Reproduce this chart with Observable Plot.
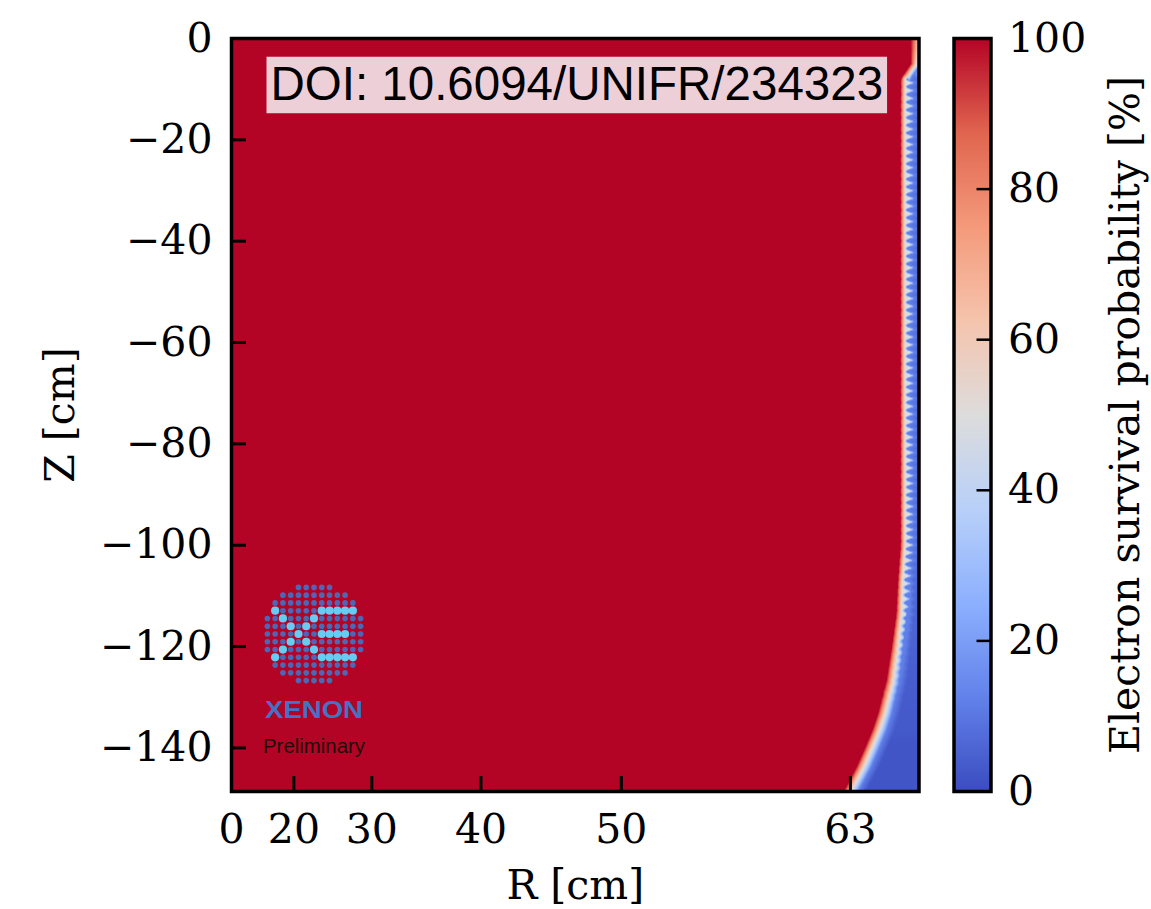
<!DOCTYPE html>
<html>
<head>
<meta charset="utf-8">
<script src="https://cdn.jsdelivr.net/npm/d3@7"></script>
<script src="https://cdn.jsdelivr.net/npm/@observablehq/plot@0.6"></script>
<style>
  html, body { margin: 0; padding: 0; background: #fff; }
  #wrap { position: relative; width: 1151px; height: 909px; overflow: hidden; }
  #wrap > svg { position: absolute; left: 0; top: 0; }
</style>
</head>
<body>
<div id="wrap"></div>
<script>
// ---------- data ----------
const xTickValues = [0, 20, 30, 40, 50, 63];            // R [cm] (axis is linear in R^2)
const yTickValues = [0, -20, -40, -60, -80, -100, -120, -140];
const colorbarTicks = [0, 20, 40, 60, 80, 100];
const rMax = 66.4;     // right edge of the map [cm]
const zMin = -148.6;   // bottom edge of the map [cm]

// survival-probability boundary knots (Z in cm)
const knotZ     = [0,    -5,   -8,    -14,   -100,  -107,  -113.5, -120,  -126.7, -133.2, -136.5, -139.9, -143.8, -147.8, -148.6];
const knotR100  = [66.0, 66.0, 65.5,  65.49, 65.49, 65.36, 65.28,  65.06, 64.80,  64.38,  64.10,  63.74,  63.30,  62.76,  62.65]; // red (100%) ends
const knotR50   = [66.5, 66.3, 65.8,  65.78, 65.78, 65.66, 65.60,  65.40, 65.16,  64.76,  64.48,  64.12,  63.70,  63.16,  63.05]; // white (50%)
const knotR10   = [66.7, 66.5, 65.98, 65.97, 65.97, 65.86, 65.82,  65.65, 65.45,  65.08,  64.82,  64.47,  64.05,  63.51,  63.40]; // light blue (~12%)
const knotEdgeP = [60,   45,   8,     8,     8,     7,     6,      5,     4,      3,      3,      2,      2,      2,      2];     // value next to the wall

// field-shaping electrode ripple along the wall
const electrodePitch = 1.52;          // cm
const rippleTop = -8, rippleFull = -105, rippleEnd = -132;
// offsets [r100, r50, r10] (cm) at the centre of a blue bulge and at the tip of an orange wedge
const bulgeOffset = [0.02, -0.07, -0.16];
const wedgeOffset = [-0.32, 0.20, 0.26];

// matplotlib "coolwarm" colour stops
const coolwarmStops = ["#3b4cc0", "#6282ea", "#8db0fe", "#b8d0f9", "#dddcdc", "#f5c4ad", "#f49a7b", "#e0654f", "#b40426"];

const doiText = "DOI: 10.6094/UNIFR/234323";

// logo: cyan "Xe" dots (col,row) on a 13x13 dotted disc
const logoCyan = [[1,3],[7,3],[8,3],[9,3],[10,3],[11,3],[2,4],[6,4],[3,5],[5,5],[4,6],[7,6],[8,6],[9,6],[10,6],[3,7],[5,7],[2,8],[6,8],[1,9],[7,9],[8,9],[9,9],[10,9],[11,9]];

// ---------- build sample points for the raster ----------
const zAt = arr => d3.scaleLinear().domain(knotZ).range(arr).clamp(true);
const f100 = zAt(knotR100), f50 = zAt(knotR50), f10 = zAt(knotR10), fEdge = zAt(knotEdgeP);
const rows = d3.range(0, rippleTop, -0.5).concat(d3.range(rippleTop, zMin, -electrodePitch / 8), [zMin]);
const points = [];
rows.forEach(z => {
  let r100 = f100(z), r50 = f50(z), r10 = f10(z);
  const pe = fEdge(z);
  const a = (z > rippleTop || z < rippleEnd) ? 0 : z >= rippleFull ? 1 : (z - rippleEnd) / (rippleFull - rippleEnd);
  if (a > 0) {
    const u = ((rippleTop - z) / electrodePitch) % 1;
    const k = (1 - Math.cos(2 * Math.PI * u)) / 2;     // 0 on a bulge, 1 on a wedge tip
    const kTip = Math.pow(k, 4), kRound = Math.pow(k, 1.5);
    r100 += a * (bulgeOffset[0] + (wedgeOffset[0] - bulgeOffset[0]) * kTip);
    r50  += a * (bulgeOffset[1] + (wedgeOffset[1] - bulgeOffset[1]) * kRound);
    r10  += a * (bulgeOffset[2] + (wedgeOffset[2] - bulgeOffset[2]) * kRound);
  }
  points.push({r: 0, z, p: 100}, {r: r100 - 3, z, p: 100}, {r: r100, z, p: 100});
  if (r50 < rMax) points.push({r: r50, z, p: 50});
  if (r10 < rMax) points.push({r: r10, z, p: 12});
  if (r10 + 0.4 < rMax) points.push({r: r10 + 0.4, z, p: pe});
  points.push({r: rMax, z, p: pe});
});

const coolwarm = d3.piecewise(d3.interpolateRgb, coolwarmStops);
const colorScale = {type: "linear", domain: [0, 100], interpolate: coolwarm};
const minusFmt = d => d < 0 ? "\u2212" + Math.abs(d) : String(d);

const W = 1151, H = 909;
const mL = 231, mR = W - 918.5, mT = 38, mB = H - 791;
const plotW = W - mL - mR, plotH = H - mT - mB;
const serif = "DejaVu Serif";

const main = Plot.plot({
  width: W, height: H,
  marginLeft: mL, marginRight: mR, marginTop: mT, marginBottom: mB,
  style: {background: "white", fontFamily: serif, fontSize: "41px", overflow: "visible"},
  x: {type: "pow", exponent: 2, domain: [0, rMax]},
  y: {domain: [zMin, 0]},
  color: colorScale,
  marks: [
    Plot.raster(points, {x: "r", y: "z", fill: "p", interpolate: "barycentric", x1: 0, x2: rMax, y1: zMin, y2: 0}),
    Plot.tickX(xTickValues.filter(d => d > 0), {x: d => d, stroke: "black", strokeWidth: 3, insetTop: plotH - 15}),
    Plot.tickY(yTickValues.filter(d => d < 0), {y: d => d, stroke: "black", strokeWidth: 3, insetRight: plotW - 15}),
    Plot.frame({stroke: "black", strokeWidth: 3.5}),
    Plot.axisX(xTickValues, {anchor: "bottom", tickSize: 0, tickPadding: 22, tickFormat: d => String(d), label: null, fontSize: 41}),
    Plot.axisY(yTickValues, {anchor: "left", tickSize: 0, tickPadding: 19, tickFormat: minusFmt, label: null, fontSize: 41}),
    Plot.text(["R [cm]"], {text: d => d, frameAnchor: "bottom", textAnchor: "middle", lineAnchor: "middle", dy: 94, fontSize: 41}),
    Plot.text(["Z [cm]"], {text: d => d, frameAnchor: "left", textAnchor: "middle", lineAnchor: "middle", dx: -171, rotate: -90, fontSize: 41}),
    Plot.text([doiText], {text: d => d, frameAnchor: "top-left", textAnchor: "start", lineAnchor: "top", dx: 39, dy: 28,
      fontFamily: "Liberation Sans, Arial, sans-serif", fontSize: 47.5, fill: "black"})
  ]
});

const cbL = 953.5, cbR = 990.5;
const colorbar = Plot.plot({
  width: W, height: H,
  marginLeft: cbL, marginRight: W - cbR, marginTop: mT, marginBottom: mB,
  style: {background: "transparent", fontFamily: serif, fontSize: "41px", overflow: "visible"},
  x: {domain: [0, 1], axis: null},
  y: {domain: [0, 100]},
  color: colorScale,
  marks: [
    Plot.raster({fill: (x, y) => y, x1: 0, x2: 1, y1: 0, y2: 100}),
    Plot.tickY(colorbarTicks.filter(d => d > 0 && d < 100), {y: d => d, stroke: "black", strokeWidth: 2.5, insetLeft: (cbR - cbL) - 14}),
    Plot.frame({stroke: "black", strokeWidth: 3.5}),
    Plot.axisY(colorbarTicks, {anchor: "right", tickSize: 0, tickPadding: 17, label: null, fontSize: 41}),
    Plot.text(["Electron survival probability [%]"], {text: d => d, frameAnchor: "right", textAnchor: "middle", lineAnchor: "middle", dx: 1125 - cbR, rotate: -90, fontSize: 41})
  ]
});

const wrap = document.getElementById("wrap");
wrap.appendChild(main);
wrap.appendChild(colorbar);

// DOI box background
const svg = d3.select(main);
svg.selectAll("text").filter(function() { return this.textContent === doiText; }).each(function() {
  const b = this.getBBox();
  d3.select(this.parentNode).insert("rect", ":first-child")
    .attr("transform", this.getAttribute("transform"))
    .attr("x", b.x - 4).attr("y", b.y - 0.5).attr("width", b.width + 8).attr("height", b.height + 3.5)
    .attr("fill", "#edcfd8");
});

// XENON logo
const logo = svg.append("g").attr("transform", "translate(314,634)").attr("text-anchor", "start");
const step = 7.77;
const cyanSet = new Set(logoCyan.map(([c, r]) => c + "," + r));
for (let r = 0; r <= 12; r++) {
  for (let c = 0; c <= 12; c++) {
    if (Math.hypot(c - 6, r - 6) > 6.5) continue;
    const isCyan = cyanSet.has(c + "," + r);
    logo.append("circle").attr("cx", (c - 6) * step).attr("cy", (r - 6) * step)
      .attr("r", isCyan ? 4.1 : 2.8).attr("fill", isCyan ? "#66ccf2" : "#4a68b5");
  }
}
logo.append("text").attr("x", -49).attr("y", 84).attr("font-family", "Liberation Sans, Arial, sans-serif")
  .attr("text-anchor", "start").attr("font-weight", "bold").attr("font-size", 24).attr("fill", "#4472c4")
  .attr("textLength", 98).attr("lengthAdjust", "spacingAndGlyphs").text("XENON");
logo.append("text").attr("x", -51).attr("y", 119).attr("font-family", "Liberation Sans, Arial, sans-serif")
  .attr("text-anchor", "start").attr("font-size", 21).attr("fill", "#1f0a0a")
  .attr("textLength", 102).attr("lengthAdjust", "spacingAndGlyphs").text("Preliminary");
</script>
</body>
</html>
